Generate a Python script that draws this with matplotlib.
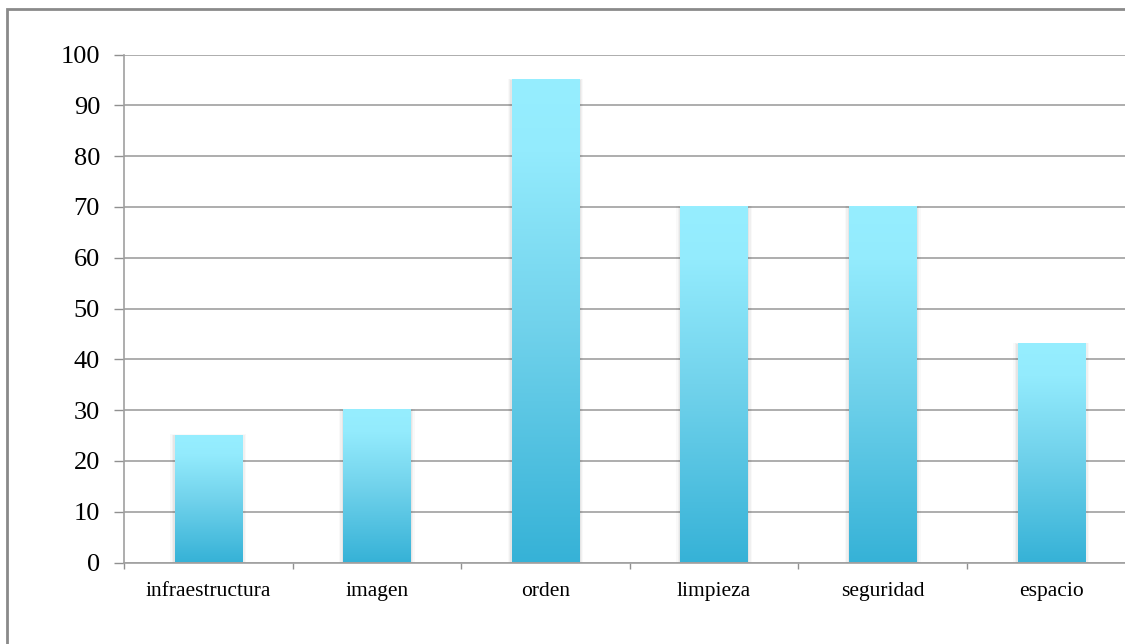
import numpy as np
import matplotlib.pyplot as plt
from matplotlib.colors import LinearSegmentedColormap
from matplotlib.patches import Rectangle

categorias = ['infraestructura', 'imagen', 'orden', 'limpieza', 'seguridad', 'espacio']
valores = [25, 30, 95, 70, 70, 43]

plt.rcParams['font.family'] = ['Liberation Serif', 'DejaVu Serif']

fig = plt.figure(figsize=(11.25, 6.44), dpi=100)
W, H = 1125, 644

# marco del grafico (recortado a la derecha y abajo)
fig.patches.append(Rectangle((6.5 / W, -0.1), 1.2, 1 - 9.3 / H + 0.1,
                             transform=fig.transFigure, fill=False,
                             edgecolor='#8a8a8a', linewidth=2))

ax = fig.add_axes([124 / W, 81.5 / H, 1011.6 / W, 508 / H])

# degradado de cada barra: claro arriba, oscuro abajo
cmap = LinearSegmentedColormap.from_list(
    'barra', [(0, '#36b2d7'), (0.5, '#72d3ec'), (0.85, '#93ebfd'), (1, '#96eeff')])
grad = np.linspace(0, 1, 256).reshape(-1, 1)
ancho = 0.4
for i, v in enumerate(valores):
    x0 = i + 0.5 - ancho / 2
    # sombra suave
    for k, a in [(0.025, 0.025), (0.016, 0.035), (0.008, 0.045)]:
        ax.add_patch(Rectangle((x0 - k, 0), ancho + 2 * k, v + k * 8,
                               facecolor='black', alpha=a, edgecolor='none', zorder=2))
    ax.imshow(grad, cmap=cmap, origin='lower', aspect='auto',
              extent=[x0, x0 + ancho, 0, v], zorder=3, interpolation='bilinear')

ax.set_xlim(0, 6)
ax.set_ylim(0, 100)
ax.set_yticks(range(0, 101, 10))
ax.yaxis.grid(True, color='#a0a0a0', linewidth=1.2)
ax.set_axisbelow(True)

ax.set_xticks(np.arange(0, 7))
ax.set_xticklabels([])
ax.set_xticks(np.arange(6) + 0.5, minor=True)
ax.set_xticklabels(categorias, minor=True, fontsize=15.5)
ax.tick_params(axis='x', which='minor', length=0, pad=14)
ax.tick_params(axis='x', which='major', length=4.5, color='#909090', width=1)
ax.tick_params(axis='y', length=7.2, color='#909090', width=1, labelsize=19, pad=10)

for s in ['top', 'right']:
    ax.spines[s].set_visible(False)
for s in ['left', 'bottom']:
    ax.spines[s].set_color('#a0a0a0')
    ax.spines[s].set_linewidth(1.2)

fig.savefig('out.png', dpi=100)
